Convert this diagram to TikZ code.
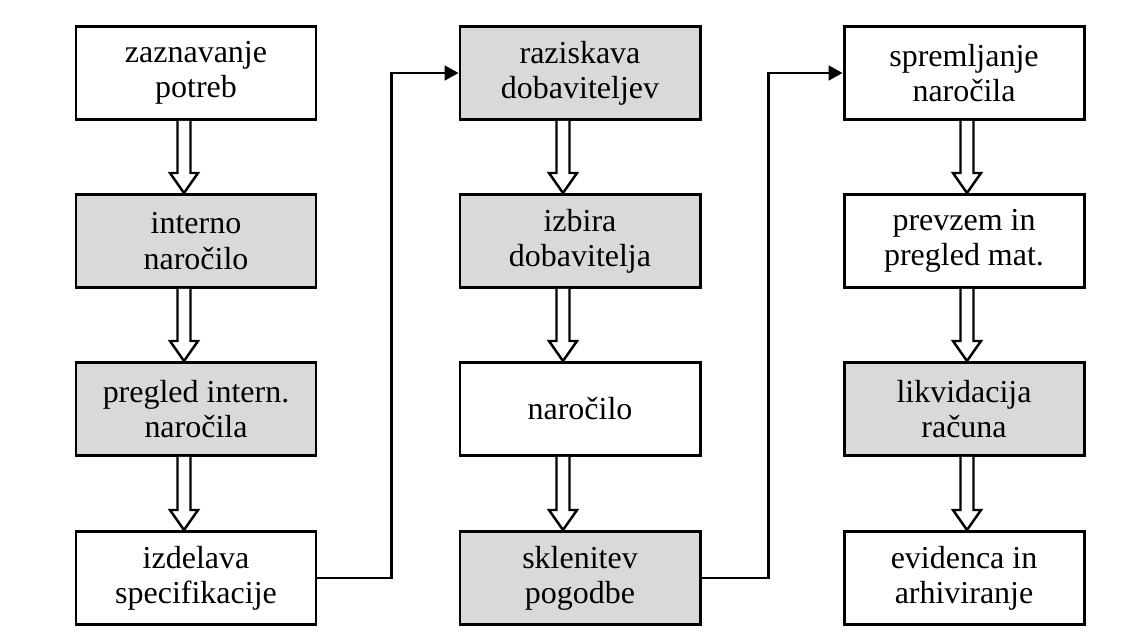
\documentclass[tikz,border=0pt]{standalone}
\usepackage{fontspec}
\setmainfont{Liberation Serif}
\usepackage{tikz}
\usetikzlibrary{arrows.meta, calc}
\definecolor{boxgray}{RGB}{217,217,217}
\tikzset{
  stepbox/.style={draw, line width=1.7pt, minimum width=4.8cm, minimum height=1.86cm, inner sep=0pt, align=center, font=\fontsize{18.2}{20}\selectfont},
  whitebox/.style={stepbox, fill=white},
  graybox/.style={stepbox, fill=boxgray},
  link/.style={line width=1.2pt, -{Triangle[length=0.28cm, width=0.3cm]}},
  hollow/.style={line width=1.4pt, fill=white, line join=miter}
}
\newcommand{\hollowarr}[3]{\draw[hollow] ($(#1.south)+(#3-0.13,0)$) -- ($(#2.north)+(#3-0.13,0.4)$) -- ($(#2.north)+(#3-0.28,0.4)$) -- ($(#2.north)+(#3,0)$) -- ($(#2.north)+(#3+0.28,0.4)$) -- ($(#2.north)+(#3+0.13,0.4)$) -- ($(#1.south)+(#3+0.13,0)$);}

\begin{document}
\begin{tikzpicture}
\useasboundingbox (0,0) rectangle (22.8,12.66);
% first column
\node[whitebox] (potrebe) at (3.92,11.20) {zaznavanje\\potreb};
\node[graybox] (intnar) at (3.92,7.84) {interno\\naročilo};
\node[graybox] (pregint) at (3.92,4.48) {pregled intern.\\naročila};
\node[whitebox] (spec) at (3.92,1.10) {izdelava\\specifikacije};
\hollowarr{potrebe}{intnar}{-0.24}
\hollowarr{intnar}{pregint}{-0.24}
\hollowarr{pregint}{spec}{-0.24}
% second column
\node[graybox] (razisk) at (11.6,11.20) {raziskava\\dobaviteljev};
\node[graybox] (izbira) at (11.6,7.84) {izbira\\dobavitelja};
\node[whitebox] (narocilo) at (11.6,4.48) {naročilo};
\node[graybox] (pogodba) at (11.6,1.10) {sklenitev\\pogodbe};
\hollowarr{razisk}{izbira}{-0.34}
\hollowarr{izbira}{narocilo}{-0.34}
\hollowarr{narocilo}{pogodba}{-0.34}
% third column
\node[whitebox] (spremlj) at (19.28,11.20) {spremljanje\\naročila};
\node[whitebox] (prevzem) at (19.28,7.84) {prevzem in\\pregled mat.};
\node[graybox] (likvid) at (19.28,4.48) {likvidacija\\računa};
\node[whitebox] (arhiv) at (19.28,1.10) {evidenca in\\arhiviranje};
\hollowarr{spremlj}{prevzem}{0.06}
\hollowarr{prevzem}{likvid}{0.06}
\hollowarr{likvid}{arhiv}{0.06}
% links between columns
\draw[link] (spec.east) -- ++(1.48,0) |- (razisk.west);
\draw[link] (pogodba.east) -- ++(1.34,0) |- (spremlj.west);
\end{tikzpicture}
\end{document}
